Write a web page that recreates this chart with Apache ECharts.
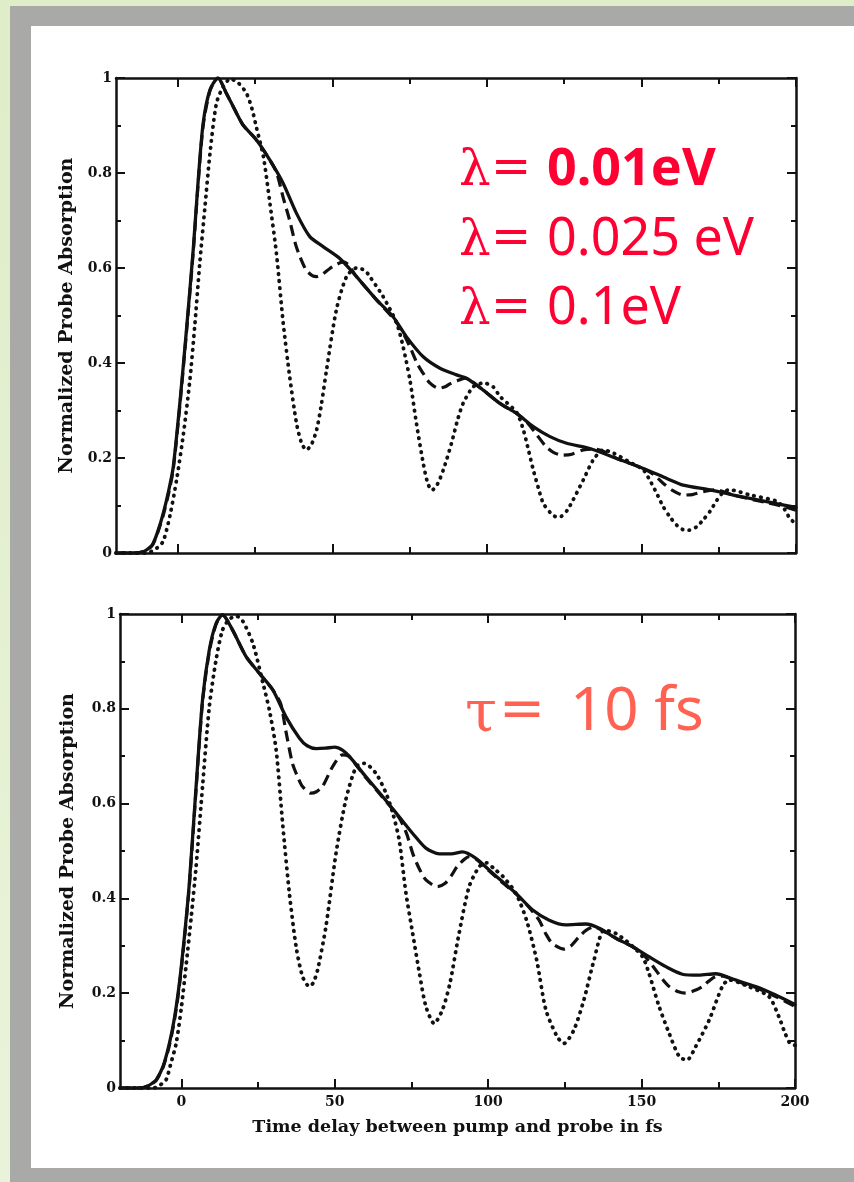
<!DOCTYPE html>
<html>
<head>
<meta charset="utf-8">
<script src="https://cdn.jsdelivr.net/npm/echarts@6/dist/echarts.min.js"></script>
<style>
  html, body { margin: 0; padding: 0; }
  body { width: 854px; height: 1182px; position: relative; overflow: hidden;
         background: linear-gradient(180deg, #dfedc8 0%, #e9f3da 100%); }
  #frame { position: absolute; left: 10px; top: 6px; right: 0; bottom: 0; background: #a9a9a7; }
  #paper { position: absolute; left: 31px; top: 26px; width: 823px; height: 1142px; background: #ffffff; }
  #chart { position: absolute; left: 0; top: 0; width: 854px; height: 1182px; }
</style>
</head>
<body>
<div id="frame"></div>
<div id="paper"></div>
<div id="chart"></div>
<script>
// ---------- data (time delay in fs, normalized absorption) ----------
const xMajorTicks = [0, 50, 100, 150, 200];
const xMinorTicks = [25, 75, 125, 175];
const xTitle = 'Time delay between pump and probe in fs';
const yTitle = 'Normalized Probe Absorption';
const lambdaSym = 'λ';
const tauSym = 'τ';
const eqSym = '=';
const topValues = ['0.01eV', '0.025 eV', '0.1eV'];
const bottomValue = '10 fs';

// top panel: lambda = 0.01 eV (solid)
const topSolid = [[-20,0],[-14,0],[-11,0.003],[-9,0.012],[-8,0.02],[-6.5,0.045],[-4.7,0.084],[-3,0.13],[-1.5,0.18],[0.65,0.315],[2.8,0.47],[5,0.64],[6.6,0.785],[8.2,0.905],[10.4,0.975],[13,1.0],[15.7,0.968],[19,0.926],[21.1,0.901],[25.5,0.869],[29.8,0.827],[34.1,0.778],[38.4,0.715],[42.7,0.666],[47,0.645],[52.4,0.62],[57.8,0.582],[64.3,0.533],[69.7,0.497],[74,0.455],[79.4,0.413],[84.8,0.389],[90.2,0.375],[93.4,0.368],[98.8,0.343],[104.2,0.315],[109.6,0.294],[115,0.266],[120.4,0.245],[125.8,0.231],[133.3,0.22],[142,0.199],[150.6,0.178],[158.2,0.157],[163.5,0.143],[172.2,0.133],[179.7,0.122],[190.5,0.108],[200,0.096]];
// top panel: lambda = 0.025 eV (dashed)
const topDashed = [[-20,0],[-14,0],[-11,0.003],[-9,0.011],[-8,0.019],[-6.5,0.043],[-4.7,0.08],[-3,0.125],[-1.5,0.175],[0.65,0.31],[2.8,0.465],[5,0.635],[6.6,0.78],[8.2,0.9],[10.4,0.973],[13,1.0],[15.7,0.968],[19,0.926],[21.1,0.901],[25.5,0.869],[29.8,0.827],[32,0.8],[34.1,0.748],[36.2,0.7],[38,0.652],[39.5,0.624],[41.5,0.596],[43.5,0.584],[45,0.582],[47,0.588],[49.2,0.599],[51.5,0.608],[53.5,0.613],[55,0.608],[57.8,0.582],[64.3,0.533],[69.7,0.494],[72.5,0.468],[75.1,0.434],[77.5,0.398],[79.4,0.378],[81.5,0.358],[84.3,0.347],[86.5,0.35],[88,0.356],[90.2,0.362],[93,0.368],[95,0.362],[98.8,0.343],[104.2,0.315],[109.6,0.294],[113,0.275],[116,0.25],[119,0.225],[121.5,0.212],[124.5,0.206],[127.5,0.208],[131.2,0.217],[134.5,0.219],[138,0.213],[142,0.199],[150.6,0.178],[154,0.165],[157,0.147],[160,0.132],[163.5,0.122],[166.5,0.123],[170,0.129],[174,0.133],[179.7,0.122],[190.5,0.106],[196,0.098],[200,0.09]];
// top panel: lambda = 0.1 eV (dotted)
const topDotted = [[-20,0],[-10,0],[-8,0.005],[-6.5,0.012],[-4.7,0.025],[-2.5,0.08],[-0.4,0.154],[1.8,0.25],[3.9,0.364],[5.5,0.48],[7.1,0.61],[8.8,0.73],[10.4,0.841],[12.5,0.947],[14.7,0.982],[17,0.998],[19.5,0.99],[22.2,0.968],[24,0.935],[25.5,0.894],[27.7,0.834],[29.8,0.736],[31.9,0.631],[34.1,0.484],[36.2,0.371],[38.4,0.273],[40,0.232],[41.6,0.217],[43.2,0.228],[44.9,0.259],[46.5,0.315],[48.1,0.385],[51.3,0.512],[54.6,0.582],[57.8,0.6],[60.5,0.595],[62.1,0.582],[66.4,0.54],[70.8,0.484],[72.9,0.434],[75.1,0.364],[77.2,0.273],[79.4,0.189],[80.8,0.148],[82.2,0.132],[84,0.145],[85.9,0.175],[88.5,0.23],[90.5,0.28],[92.3,0.315],[95.6,0.35],[99,0.358],[102,0.35],[104.2,0.33],[109.6,0.296],[111.8,0.259],[113.5,0.215],[115,0.175],[116.6,0.138],[118.2,0.105],[120.5,0.085],[122.5,0.076],[124,0.077],[126,0.09],[127.9,0.112],[131.2,0.154],[134.4,0.196],[137.7,0.217],[141,0.21],[146,0.192],[150.6,0.175],[152.8,0.152],[154.9,0.126],[157,0.098],[159.2,0.076],[161.5,0.058],[163.5,0.049],[165.5,0.048],[167.8,0.055],[170,0.07],[172.2,0.088],[174.5,0.112],[176.5,0.128],[178.5,0.133],[185.2,0.122],[193.8,0.109],[196,0.095],[198.1,0.072],[200,0.062]];

// bottom panel: lambda = 0.01 eV (solid)
const bottomSolid = [[-20,0],[-13,0],[-11,0.004],[-9.5,0.01],[-8.2,0.017],[-6,0.045],[-3.9,0.094],[-2.2,0.15],[-0.65,0.221],[1,0.32],[2.6,0.432],[4.8,0.636],[6.9,0.819],[9.1,0.924],[11.3,0.98],[13.4,0.998],[16.7,0.966],[21.1,0.91],[25.4,0.875],[29.8,0.84],[34.1,0.783],[38.5,0.738],[41,0.722],[44,0.716],[47,0.717],[50,0.719],[52.5,0.713],[54.7,0.7],[60.1,0.657],[65.6,0.615],[71,0.572],[75.4,0.537],[79.7,0.506],[84.1,0.494],[88,0.494],[91.6,0.498],[95.9,0.485],[100.3,0.46],[104.7,0.435],[109,0.411],[114.4,0.376],[119.9,0.354],[125.3,0.344],[131.8,0.346],[136.2,0.337],[141.6,0.316],[147.1,0.298],[152.4,0.277],[157.9,0.256],[163.3,0.24],[168.7,0.238],[174.1,0.241],[180.6,0.228],[187.2,0.214],[193.7,0.196],[200,0.176]];
// bottom panel: lambda = 0.025 eV (dashed)
const bottomDashed = [[-20,0],[-13,0],[-11,0.004],[-9.5,0.009],[-8.2,0.016],[-6,0.043],[-3.9,0.09],[-2.2,0.145],[-0.65,0.215],[1,0.315],[2.6,0.427],[4.8,0.63],[6.9,0.815],[9.1,0.92],[11.3,0.978],[13.4,0.998],[16.7,0.966],[21.1,0.91],[25.4,0.875],[29.8,0.84],[32.4,0.81],[34,0.755],[36.2,0.685],[38,0.655],[39.5,0.636],[42.2,0.622],[44,0.625],[46,0.636],[49.3,0.678],[52.5,0.703],[54.7,0.699],[60.1,0.655],[65.6,0.613],[71,0.57],[73.5,0.535],[75.4,0.495],[77.5,0.463],[79.7,0.439],[83.5,0.425],[86,0.432],[88,0.448],[90,0.468],[93.8,0.488],[96,0.483],[100.3,0.458],[104.7,0.433],[109,0.41],[112.8,0.385],[116.6,0.354],[118.8,0.325],[120.9,0.305],[124.8,0.293],[127,0.3],[129.6,0.319],[132,0.333],[134.5,0.34],[136.2,0.336],[141.6,0.316],[147.1,0.298],[150.5,0.282],[154.6,0.249],[157,0.228],[159,0.214],[162,0.203],[164.4,0.2],[167,0.205],[169.8,0.214],[172,0.226],[174.1,0.235],[176.5,0.236],[180.6,0.226],[187.2,0.212],[193.7,0.193],[200,0.172]];
// bottom panel: lambda = 0.1 eV (dotted)
const bottomDotted = [[-20,0],[-9,0],[-7,0.006],[-5,0.017],[-3.5,0.05],[-1.7,0.094],[0,0.17],[1.5,0.256],[3.2,0.36],[4.8,0.467],[6.9,0.636],[9.1,0.804],[11.3,0.903],[13.4,0.966],[15.5,0.988],[17.8,0.996],[20,0.985],[23.3,0.938],[26.6,0.854],[28.7,0.797],[30.9,0.713],[33.1,0.551],[35.2,0.411],[37.4,0.298],[39.5,0.235],[41.7,0.214],[43,0.222],[44.4,0.249],[47.1,0.34],[50.4,0.495],[53.6,0.608],[57,0.678],[59.6,0.685],[63.4,0.664],[66.7,0.622],[68.9,0.58],[71,0.523],[73.2,0.411],[75.4,0.326],[77.6,0.242],[79.7,0.172],[82.4,0.136],[85.1,0.165],[87.5,0.22],[90.5,0.326],[93.8,0.425],[97.1,0.467],[99.5,0.475],[102,0.462],[104.7,0.447],[109,0.411],[112.5,0.354],[115.8,0.27],[118.8,0.165],[122.5,0.108],[124.7,0.094],[127.9,0.122],[131.2,0.186],[134.5,0.27],[137.8,0.333],[141.6,0.326],[146,0.305],[150.3,0.277],[152.4,0.242],[155.7,0.172],[159,0.115],[162.3,0.066],[164.8,0.059],[167.6,0.087],[172,0.143],[176.3,0.214],[178.5,0.228],[184.9,0.214],[191.5,0.193],[194.7,0.151],[196.8,0.115],[198.4,0.094],[200,0.09]];

// ---------- chart ----------
const INK = '#111111';
const SERIF = 'DejaVu Serif';
const grids = [
  { left: 116, top: 78, width: 680, height: 475 },
  { left: 120, top: 614, width: 675, height: 474 }
];

function xMain(gi, pos, showLabels) {
  return {
    gridIndex: gi, type: 'value', min: -20, max: 200, position: pos,
    axisLine: { show: true, onZero: false, lineStyle: { color: INK, width: 2.5 } },
    axisTick: { show: true, inside: true, length: 9, customValues: xMajorTicks, lineStyle: { color: INK, width: 2 } },
    axisLabel: { show: showLabels, customValues: xMajorTicks, margin: 7, color: INK,
                 fontFamily: SERIF, fontWeight: 'bold', fontSize: 14 },
    splitLine: { show: false },
    name: showLabels ? xTitle : '', nameLocation: 'middle', nameGap: 30,
    nameTextStyle: { color: INK, fontFamily: SERIF, fontWeight: 'bold', fontSize: 17.5 }
  };
}
function xMinor(gi, pos) {
  return {
    gridIndex: gi, type: 'value', min: -20, max: 200, position: pos,
    axisLine: { show: false },
    axisTick: { show: true, inside: true, length: 6, customValues: xMinorTicks, lineStyle: { color: INK, width: 2 } },
    axisLabel: { show: false }, splitLine: { show: false }
  };
}
function yMain(gi, pos, showLabels, gap) {
  return {
    gridIndex: gi, type: 'value', min: 0, max: 1, interval: 0.2, position: pos,
    axisLine: { show: true, onZero: false, lineStyle: { color: INK, width: 2.5 } },
    axisTick: { show: true, inside: true, length: 9, lineStyle: { color: INK, width: 2 } },
    minorTick: { show: true, splitNumber: 2, length: 5, lineStyle: { color: INK, width: 2 } },
    axisLabel: { show: showLabels, margin: 4, color: INK, fontFamily: SERIF, fontWeight: 'bold', fontSize: 14,
                 formatter: v => (v === 0 ? '0' : (v === 1 ? '1' : v.toFixed(1))) },
    splitLine: { show: false },
    name: showLabels ? yTitle : '', nameLocation: 'middle', nameGap: gap,
    nameTextStyle: { color: INK, fontFamily: SERIF, fontWeight: 'bold', fontSize: 19 }
  };
}

function line(data, xi, yi, kind) {
  const ls = { color: INK, width: 3.3, cap: 'round', join: 'round' };
  if (kind === 'dashed') { ls.type = [11, 6]; ls.cap = 'butt'; ls.width = 3.2; }
  if (kind === 'dotted') { ls.type = [0.5, 6.5]; ls.width = 3.8; }
  return { type: 'line', data: data, xAxisIndex: xi, yAxisIndex: yi, showSymbol: false, symbol: 'none',
           smooth: 0.25, lineStyle: ls, silent: true, z: kind === 'solid' ? 4 : (kind === 'dashed' ? 3 : 2) };
}

const RED = '#ff0033';
const SALMON = '#ff6152';
const ANN = 'Noto Sans';

function txt(x, y, s, color, family, size, weight) {
  return { type: 'text', x: x, y: y, z: 10,
           style: { text: s, fill: color, fontFamily: family, fontSize: size, fontWeight: weight || 'normal', verticalAlign: 'middle' } };
}

const graphics = [];
[170, 240, 309].forEach((y, i) => {
  graphics.push(txt(459, y + 2, lambdaSym, RED, 'DejaVu Serif', 50));
  graphics.push(txt(491, y, eqSym, RED, 'DejaVu Sans', 48));
  graphics.push(txt(547, y, topValues[i], RED, ANN, 52, i === 0 ? 'bold' : 'normal'));
});
graphics.push(txt(465, 716, tauSym, SALMON, 'DejaVu Serif', 58));
graphics.push(txt(499, 713, eqSym, SALMON, 'DejaVu Sans', 55));
graphics.push(txt(570, 713, bottomValue, SALMON, ANN, 60));

const option = {
  animation: false,
  backgroundColor: 'transparent',
  grid: [grids[0], grids[1], Object.assign({}, grids[0]), Object.assign({}, grids[1])],
  xAxis: [
    xMain(0, 'bottom', false), xMain(0, 'top', false),
    xMain(1, 'bottom', true), xMain(1, 'top', false),
    xMinor(2, 'bottom'), xMinor(2, 'top'),
    xMinor(3, 'bottom'), xMinor(3, 'top')
  ],
  yAxis: [
    yMain(0, 'left', true, 39), yMain(0, 'right', false, 0),
    yMain(1, 'left', true, 42), yMain(1, 'right', false, 0),
    { gridIndex: 2, type: 'value', min: 0, max: 1, show: false },
    { gridIndex: 3, type: 'value', min: 0, max: 1, show: false }
  ],
  series: [
    line(topDotted, 0, 0, 'dotted'),
    line(topDashed, 0, 0, 'dashed'),
    line(topSolid, 0, 0, 'solid'),
    line(bottomDotted, 2, 2, 'dotted'),
    line(bottomDashed, 2, 2, 'dashed'),
    line(bottomSolid, 2, 2, 'solid')
  ],
  graphic: graphics
};

const chart = echarts.init(document.getElementById('chart'), null, { renderer: 'canvas', width: 854, height: 1182 });
chart.setOption(option);
</script>
</body>
</html>
